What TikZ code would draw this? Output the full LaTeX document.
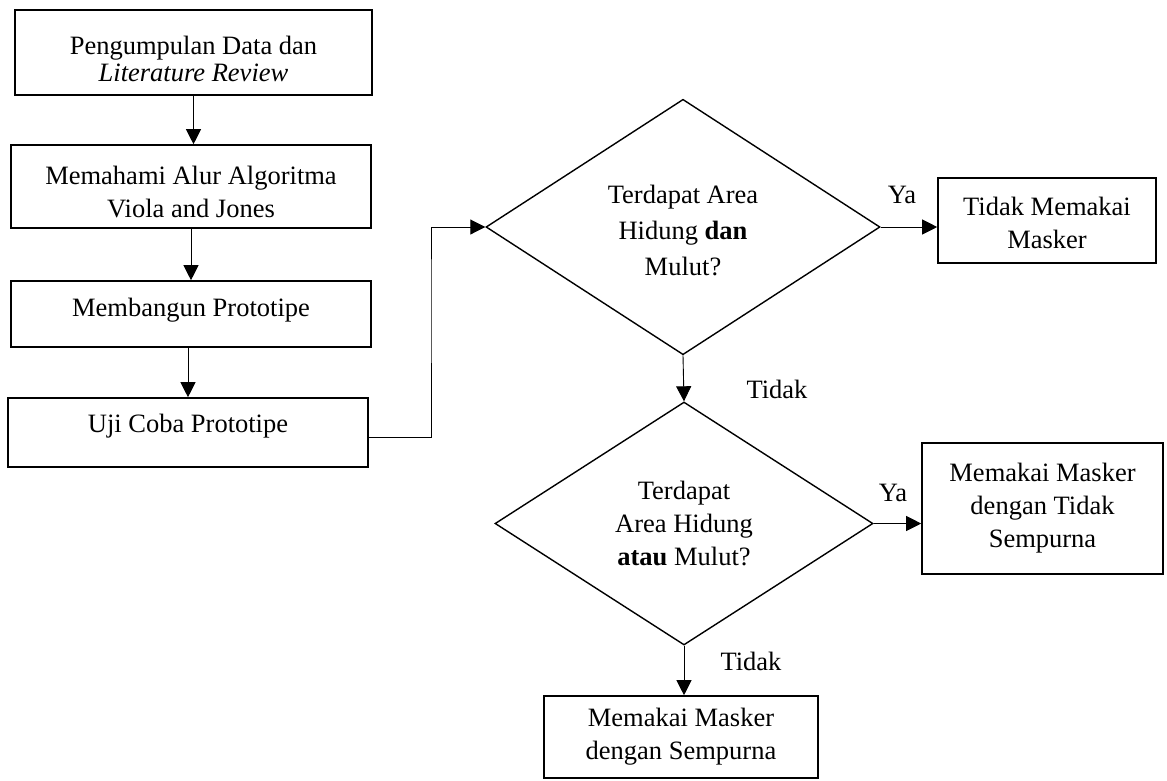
\documentclass[tikz,border=0pt]{standalone}
\usepackage{fontspec}
\setmainfont{Liberation Serif}
\usetikzlibrary{shapes.geometric,arrows.meta}
\newcommand{\mytx}[2]{\raisebox{#1}[\height][\depth]{\begin{tabular}{@{}c@{}}#2\end{tabular}}}
\begin{document}
\begin{tikzpicture}[x=1pt,y=-1pt,
  every node/.style={font=\fontsize{26.5}{33}\selectfont, align=center, inner sep=0pt},
  box/.style={draw, line width=1.6pt, rectangle},
  dia/.style={draw, line width=1.4pt, diamond},
  arr/.style={line width=0.9pt, -{Triangle[length=15pt,width=15pt]}},
  lbl/.style={anchor=base}]
\useasboundingbox (0,0) rectangle (1167,780);
% left column
\node[box, minimum width=357pt, minimum height=85pt] (b1) at (193.5,52.5) {\mytx{-9pt}{Pengumpulan Data dan\\[-6pt]\textit{Literature Review}}};
\node[box, minimum width=360pt, minimum height=83pt] (b2) at (191,186.5) {\mytx{-8pt}{Memahami Alur Algoritma\\Viola and Jones}};
\node[box, minimum width=360pt, minimum height=66pt] (b3) at (191,314) {\mytx{4pt}{Membangun Prototipe}};
\node[box, minimum width=360pt, minimum height=69pt] (b4) at (188,432.5) {\mytx{7pt}{Uji Coba Prototipe}};
% decisions
\node[dia, minimum width=394pt, minimum height=240pt] (d1) at (683,227) {\mytx{-6pt}{Terdapat Area\\[3pt]Hidung \textbf{dan}\\[3pt]Mulut?}};
\node[dia, minimum width=378pt, minimum height=243pt] (d2) at (684,523.5) {Terdapat\\Area Hidung\\\textbf{atau} Mulut?};
% outcomes
\node[box, minimum width=218pt, minimum height=85pt] (t1) at (1047,220.5) {\mytx{-5pt}{Tidak Memakai\\Masker}};
\node[box, minimum width=241pt, minimum height=131pt] (t2) at (1042.5,508.5) {Memakai Masker\\dengan Tidak\\Sempurna};
\node[box, minimum width=274pt, minimum height=82pt] (b5) at (681,737) {Memakai Masker\\dengan Sempurna};
% connectors
\draw[arr] (b1.south) -- (b1.south |- b2.north);
\draw[arr] (b2.south) -- (b2.south |- b3.north);
\draw[arr] (b4.north |- b3.south) -- (b4.north);
\draw[arr] ([yshift=-4.5pt]b4.east) -| (431,290) |- (d1.west);
\draw[arr] (d1.east) -- (d1.east -| t1.west);
\draw[arr] (d1.south) -- (d2.north);
\draw[arr] (d2.east) -- (d2.east -| t2.west);
\draw[arr] (d2.south) -- (d2.south |- b5.north);
% labels
\node[lbl] (ya1) at (902,203) {Ya};
\node[lbl] (ya2) at (893,501) {Ya};
\node[lbl] (td1) at (777,398) {Tidak};
\node[lbl] (td2) at (751,670) {Tidak};
\end{tikzpicture}
\end{document}
